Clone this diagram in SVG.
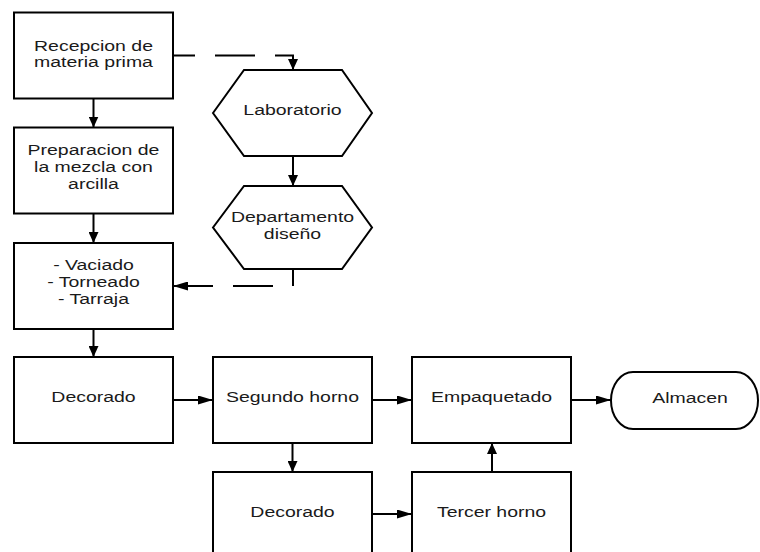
<svg xmlns="http://www.w3.org/2000/svg" width="760" height="552" viewBox="0 0 760 552">
<style>
.n{fill:#fff;stroke:#000;stroke-width:2}
.t{font-family:"Liberation Sans",Arial,sans-serif;font-size:14px;fill:#1a1a1a;text-anchor:middle}
.c{fill:none;stroke:#000;stroke-width:2}
.d{stroke-dasharray:40 20}
</style>
<defs>
<marker id="av" markerUnits="userSpaceOnUse" markerWidth="11" markerHeight="10" refX="11" refY="5" orient="auto"><path d="M0,0 L11,5 L0,10 Z" fill="#000"/></marker>
<marker id="ah" markerUnits="userSpaceOnUse" markerWidth="15" markerHeight="9" refX="15" refY="4.5" orient="auto"><path d="M0,0 L15,4.5 L0,9 Z" fill="#000"/></marker>
</defs>
<rect width="760" height="552" fill="#fff"/>
<g id="connectors">
<path class="c d" stroke-dashoffset="18" d="M173,55.5 L293,55.5 L293,70" marker-end="url(#av)"/>
<path class="c" d="M293,156 L293,186" marker-end="url(#av)"/>
<path class="c d" stroke-dashoffset="23" d="M293,269 L293,286 L173,286" marker-end="url(#ah)"/>
<path class="c" d="M93.5,98.5 L93.5,127.5" marker-end="url(#av)"/>
<path class="c" d="M93.5,213.5 L93.5,243" marker-end="url(#av)"/>
<path class="c" d="M93.5,329 L93.5,357" marker-end="url(#av)"/>
<path class="c" d="M173,400 L213,400" marker-end="url(#ah)"/>
<path class="c" d="M372,400 L412,400" marker-end="url(#ah)"/>
<path class="c" d="M571,400 L611,400" marker-end="url(#ah)"/>
<path class="c" d="M292.5,443 L292.5,472" marker-end="url(#av)"/>
<path class="c" d="M372,514 L412,514" marker-end="url(#ah)"/>
<path class="c" d="M492,472 L492,443" marker-end="url(#av)"/>
</g>
<g id="recepcion">
<rect class="n" x="14" y="12.5" width="159" height="86"/>
<text class="t" transform="translate(93.5,0) scale(1.39,1)"><tspan x="0" y="51">Recepcion de</tspan><tspan x="0" y="67.5">materia prima</tspan></text>
</g>
<g id="preparacion">
<rect class="n" x="14" y="127.5" width="159" height="86"/>
<text class="t" transform="translate(93.5,0) scale(1.39,1)"><tspan x="0" y="155.5">Preparacion de</tspan><tspan x="0" y="172.5">la mezcla con</tspan><tspan x="0" y="189.5">arcilla</tspan></text>
</g>
<g id="vaciado">
<rect class="n" x="14" y="243" width="159" height="86"/>
<text class="t" transform="translate(93.5,0) scale(1.39,1)"><tspan x="0" y="270">- Vaciado</tspan><tspan x="0" y="287">- Torneado</tspan><tspan x="0" y="304">- Tarraja</tspan></text>
</g>
<g id="laboratorio">
<polygon class="n" points="213,113 244,70 342,70 372,113 342,156 244,156"/>
<text class="t" transform="translate(292.5,0) scale(1.39,1)" x="0" y="115.5">Laboratorio</text>
</g>
<g id="departamento">
<polygon class="n" points="213,227.5 244,186 342,186 372,227.5 342,269 244,269"/>
<text class="t" transform="translate(292.5,0) scale(1.39,1)"><tspan x="0" y="222.5">Departamento</tspan><tspan x="0" y="239.5">diseño</tspan></text>
</g>
<g id="decorado1">
<rect class="n" x="14" y="357" width="159" height="86"/>
<text class="t" transform="translate(93.5,0) scale(1.39,1)" x="0" y="402.5">Decorado</text>
</g>
<g id="segundo">
<rect class="n" x="213" y="357" width="159" height="86"/>
<text class="t" transform="translate(292.5,0) scale(1.39,1)" x="0" y="402.5">Segundo horno</text>
</g>
<g id="empaquetado">
<rect class="n" x="412" y="357" width="159" height="86"/>
<text class="t" transform="translate(491.5,0) scale(1.39,1)" x="0" y="402.5">Empaquetado</text>
</g>
<g id="almacen">
<rect class="n" x="611" y="372" width="147" height="57" rx="22" ry="28.5"/>
<text class="t" transform="translate(690,0) scale(1.39,1)" x="0" y="403">Almacen</text>
</g>
<g id="decorado2">
<rect class="n" x="213" y="472" width="159" height="86"/>
<text class="t" transform="translate(292.5,0) scale(1.39,1)" x="0" y="517">Decorado</text>
</g>
<g id="tercer">
<rect class="n" x="412" y="472" width="159" height="86"/>
<text class="t" transform="translate(491.5,0) scale(1.39,1)" x="0" y="517">Tercer horno</text>
</g>
</svg>
